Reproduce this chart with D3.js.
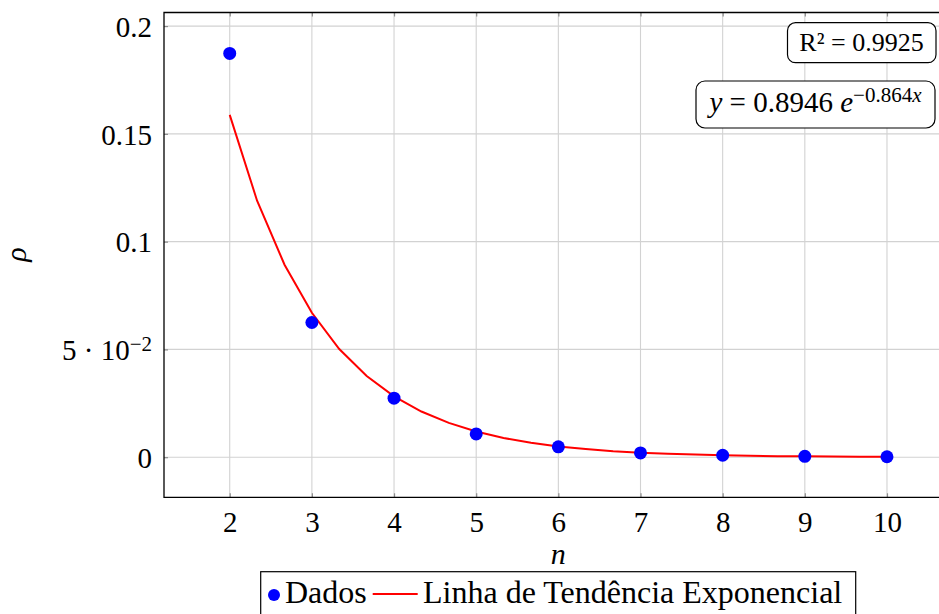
<!DOCTYPE html>
<html>
<head>
<meta charset="utf-8">
<script src="https://cdn.jsdelivr.net/npm/d3@7"></script>
<style>
  body { margin: 0; background: #fff; }
  svg { display: block; }
</style>
</head>
<body>
<div id="chart"></div>
<script>
// data
var nVals = [2, 3, 4, 5, 6, 7, 8, 9, 10];
var rhoVals = [0.1873, 0.0625, 0.0274, 0.0108, 0.0048, 0.0020, 0.0009, 0.0004, 0.0002];

// trend line samples (pgfplots style, every 1/3)
var trendX = [2, 2.333, 2.667, 3, 3.333, 3.667, 4, 4.333, 4.667, 5, 5.333, 5.667, 6,
              6.333, 6.667, 7, 7.333, 7.667, 8, 8.333, 8.667, 9, 9.333, 9.667, 10];
var trendY = [0.1588, 0.1190, 0.0893, 0.0670, 0.0502, 0.0377, 0.0282, 0.0212, 0.0159,
              0.0119, 0.0089, 0.0067, 0.0050, 0.0038, 0.0028, 0.0021, 0.0016, 0.0012,
              0.0009, 0.0007, 0.0005, 0.0004, 0.0003, 0.0002, 0.0002];

var xTicks = [2, 3, 4, 5, 6, 7, 8, 9, 10];
var yTicks = [0, 0.05, 0.1, 0.15, 0.2];
var yTickLabels = ["0", "5·10-2", "0.1", "0.15", "0.2"];

var SERIF = '"Liberation Serif", "DejaVu Serif", serif';

var width = 939, height = 614;
var plot = {left: 164, top: 12.5, bottom: 497.3, right: 952.7};

var svg = d3.select('#chart').append('svg')
    .attr('width', width)
    .attr('height', height);

var x = d3.scaleLinear()
    .domain([1.2, 10.8])
    .range([plot.left, plot.right]);

var y = d3.scaleLinear()
    .domain([-0.0186, 0.2063])
    .range([plot.bottom, plot.top]);

// grid
var grid = svg.append('g').attr('class', 'grid');
grid.selectAll('line.gx')
  .data(xTicks)
  .enter().append('line')
    .attr('x1', x).attr('x2', x)
    .attr('y1', plot.top).attr('y2', plot.bottom)
    .attr('stroke', '#d2d2d2').attr('stroke-width', 1.1);
grid.selectAll('line.gy')
  .data(yTicks)
  .enter().append('line')
    .attr('x1', plot.left).attr('x2', plot.right)
    .attr('y1', y).attr('y2', y)
    .attr('stroke', '#d2d2d2').attr('stroke-width', 1.1);

// axes (inner ticks, pgfplots look)
var xAxisB = svg.append('g')
    .attr('transform', 'translate(0,' + plot.bottom + ')')
    .call(d3.axisBottom(x).tickValues(xTicks).tickSizeInner(-4).tickSizeOuter(0).tickPadding(14));
var xAxisT = svg.append('g')
    .attr('transform', 'translate(0,' + plot.top + ')')
    .call(d3.axisTop(x).tickValues(xTicks).tickSizeInner(-4).tickSizeOuter(0).tickFormat(''));
var yAxisL = svg.append('g')
    .attr('transform', 'translate(' + plot.left + ',0)')
    .call(d3.axisLeft(y).tickValues(yTicks).tickSizeInner(-4).tickSizeOuter(0).tickPadding(12));

[xAxisB, xAxisT, yAxisL].forEach(function(a) {
  a.attr('font-family', SERIF).attr('font-size', 29);
  a.select('.domain').remove();
  a.selectAll('.tick line').attr('stroke', '#8c8c8c').attr('stroke-width', 1.2);
  a.selectAll('.tick text').attr('fill', '#000');
});

// y tick labels, with the 5·10^-2 one done by hand
yAxisL.selectAll('.tick text').each(function(d, i) {
  var t = d3.select(this).text('').attr('dy', '0.35em');
  var lab = yTickLabels[i];
  if (lab.indexOf('-2') > 0) {
    t.append('tspan').text('5 · 10');
    t.append('tspan').attr('dy', '-0.45em').attr('font-size', 21).text('−2');
  } else {
    t.text(lab);
  }
});
xAxisB.selectAll('.tick text').attr('dy', '0.71em');

// frame
svg.append('path')
    .attr('d', 'M' + plot.right + ',' + plot.top + 'H' + plot.left + 'V' + plot.bottom + 'H' + plot.right)
    .attr('fill', 'none')
    .attr('stroke', '#000')
    .attr('stroke-width', 1.3);

// trend line
var line = d3.line()
    .x(function(d, i) { return x(trendX[i]); })
    .y(function(d) { return y(d); });

svg.append('path')
    .datum(trendY)
    .attr('d', line)
    .attr('fill', 'none')
    .attr('stroke', '#ff0000')
    .attr('stroke-width', 2);

// data points
svg.selectAll('circle.pt')
  .data(rhoVals)
  .enter().append('circle')
    .attr('class', 'pt')
    .attr('cx', function(d, i) { return x(nVals[i]); })
    .attr('cy', function(d) { return y(d); })
    .attr('r', 6.5)
    .attr('fill', '#0000ff');

// axis labels
svg.append('text')
    .attr('x', x(6))
    .attr('y', 564)
    .attr('text-anchor', 'middle')
    .attr('font-family', SERIF)
    .attr('font-size', 30)
    .attr('font-style', 'italic')
    .text('n');

svg.append('text')
    .attr('transform', 'translate(26,254.5) rotate(-90)')
    .attr('text-anchor', 'middle')
    .attr('font-family', SERIF)
    .attr('font-size', 30)
    .attr('font-style', 'italic')
    .text('ρ');

// R² box
svg.append('rect')
    .attr('x', 787.5).attr('y', 22.7)
    .attr('width', 148.5).attr('height', 40)
    .attr('rx', 8)
    .attr('fill', '#fff').attr('stroke', '#000').attr('stroke-width', 1.2);
svg.append('text')
    .attr('x', 861.5).attr('y', 51)
    .attr('text-anchor', 'middle')
    .attr('font-family', SERIF)
    .attr('font-size', 26)
    .text('R² = 0.9925');

// equation box
svg.append('rect')
    .attr('x', 696).attr('y', 81)
    .attr('width', 239).attr('height', 47)
    .attr('rx', 9)
    .attr('fill', '#fff').attr('stroke', '#000').attr('stroke-width', 1.2);
var eq = svg.append('text')
    .attr('x', 815.5).attr('y', 112)
    .attr('text-anchor', 'middle')
    .attr('font-family', SERIF)
    .attr('font-size', 29);
eq.append('tspan').attr('font-style', 'italic').text('y');
eq.append('tspan').text(' = 0.8946 ');
eq.append('tspan').attr('font-style', 'italic').text('e');
eq.append('tspan').attr('dy', '-0.5em').attr('font-size', 21).text('−0.864');
eq.append('tspan').attr('font-size', 21).attr('font-style', 'italic').text('x');

// legend
var leg = svg.append('g');
leg.append('rect')
    .attr('x', 260.7).attr('y', 571.7)
    .attr('width', 595).attr('height', 60)
    .attr('fill', '#fff').attr('stroke', '#000').attr('stroke-width', 1.2);
leg.append('circle')
    .attr('cx', 274).attr('cy', 595).attr('r', 6)
    .attr('fill', '#0000ff');
leg.append('text')
    .attr('x', 285).attr('y', 603)
    .attr('font-family', SERIF)
    .attr('font-size', 32)
    .text('Dados');
leg.append('line')
    .attr('x1', 372.7).attr('x2', 417.7)
    .attr('y1', 594).attr('y2', 594)
    .attr('stroke', '#ff0000').attr('stroke-width', 2);
leg.append('text')
    .attr('x', 423).attr('y', 603)
    .attr('font-family', SERIF)
    .attr('font-size', 32)
    .text('Linha de Tendência Exponencial');
</script>
</body>
</html>
